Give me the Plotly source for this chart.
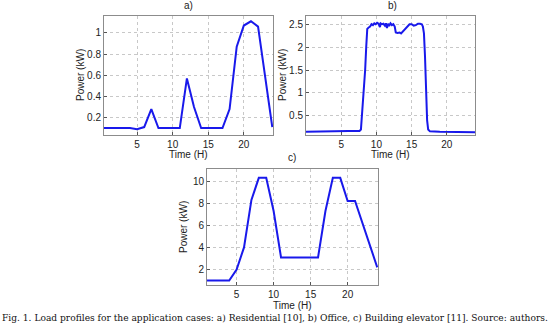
import plotly.graph_objects as go

# ---------------- data ----------------
hours_a = list(range(0, 25))
power_a = [0.10, 0.10, 0.10, 0.10, 0.10, 0.09, 0.11, 0.28, 0.10, 0.10, 0.10, 0.10,
           0.57, 0.30, 0.10, 0.10, 0.10, 0.10, 0.28, 0.87, 1.07, 1.11, 1.06, 0.58, 0.11]

hours_b = [0, 2, 4, 5, 6, 7, 7.6, 7.8, 7.95, 8.1, 8.25, 8.4, 8.55, 8.7, 8.9, 9.1, 9.3, 9.5,
           9.7, 9.9, 10.1, 10.3, 10.5, 10.6, 10.8, 11.0, 11.2, 11.35, 11.5, 11.65, 11.8,
           12.0, 12.2, 12.4, 12.6, 12.75, 13.0, 13.3, 13.5, 13.8, 14.1, 14.4, 14.7, 15.0,
           15.3, 15.6, 15.9, 16.2, 16.45, 16.6, 16.75, 16.9, 17.05, 17.2, 17.35, 17.6,
           19, 21, 24]
power_b = [0.15, 0.15, 0.155, 0.16, 0.165, 0.17, 0.17, 0.2, 0.5, 0.95, 1.1, 1.5, 2.0, 2.4,
           2.43, 2.45, 2.5, 2.48, 2.52, 2.5, 2.53, 2.51, 2.44, 2.52, 2.5, 2.51, 2.47, 2.52,
           2.42, 2.51, 2.46, 2.52, 2.48, 2.5, 2.45, 2.32, 2.31, 2.32, 2.3, 2.35, 2.4, 2.45,
           2.5, 2.5, 2.47, 2.48, 2.51, 2.51, 2.5, 2.45, 2.3, 1.8, 1.0, 0.4, 0.2, 0.16,
           0.15, 0.145, 0.14]

hours_c = list(range(1, 25))
power_c = [1.0, 1.0, 1.0, 1.0, 2.0, 4.0, 8.3, 10.3, 10.3, 7.3, 3.1, 3.1, 3.1, 3.1, 3.1,
           3.1, 7.3, 10.3, 10.3, 8.2, 8.2, 6.2, 4.2, 2.2]

ticks_x = [5, 10, 15, 20]
ticks_a = [0.2, 0.4, 0.6, 0.8, 1]
ticks_b = [0.5, 1, 1.5, 2, 2.5]
ticks_c = [2, 4, 6, 8, 10]

caption = ("Fig. 1. Load profiles for the application cases: a) Residential [10], "
           "b) Office, c) Building elevator [11]. Source: authors.")

# ---------------- figure ----------------
W, H = 550, 325
LINE = dict(color="rgb(25,25,235)", width=2)

fig = go.Figure()
fig.add_trace(go.Scatter(x=hours_a, y=power_a, mode="lines", line=LINE, xaxis="x", yaxis="y"))
fig.add_trace(go.Scatter(x=hours_b, y=power_b, mode="lines", line=LINE, xaxis="x2", yaxis="y2"))
fig.add_trace(go.Scatter(x=hours_c, y=power_c, mode="lines", line=LINE, xaxis="x3", yaxis="y3"))


def px(x0, x1):
    return [x0 / W, x1 / W]


def py(y_top, y_bot):
    return [1 - y_bot / H, 1 - y_top / H]


axis_common = dict(
    showline=True, linecolor="#8c8c8c", linewidth=1, mirror=True,
    showgrid=True, gridcolor="#c8c8c8", griddash="dot", gridwidth=1,
    ticks="inside", ticklen=3, tickcolor="#555",
    zeroline=False, tickfont=dict(family="Liberation Sans, Arial", size=10, color="#222"),
)

fig.update_layout(
    width=W, height=H, margin=dict(l=0, r=0, t=0, b=0),
    paper_bgcolor="white", plot_bgcolor="white", showlegend=False,
    xaxis=dict(domain=px(104, 273), range=[0.35, 24.1], tickvals=ticks_x, anchor="y", **axis_common),
    yaxis=dict(domain=py(16, 135), range=[0.035, 1.16], tickvals=ticks_a, anchor="x", **axis_common),
    xaxis2=dict(domain=px(306, 475), range=[0, 24], tickvals=ticks_x, anchor="y2", **axis_common),
    yaxis2=dict(domain=py(16, 135), range=[0.08, 2.68], tickvals=ticks_b, anchor="x2", **axis_common),
    xaxis3=dict(domain=px(207, 378), range=[1, 24.1], tickvals=ticks_x, anchor="y3", **axis_common),
    yaxis3=dict(domain=py(169, 285), range=[0.6, 11.1], tickvals=ticks_c, anchor="x3", **axis_common),
)

lab_font = dict(family="Liberation Sans, Arial", size=10, color="#222")


def ann(text, x, y, angle=0, font=lab_font):
    fig.add_annotation(text=text, x=x / W, y=1 - y / H, xref="paper", yref="paper",
                       showarrow=False, textangle=angle, font=font,
                       xanchor="center", yanchor="middle")


ann("a)", 188, 6)
ann("b)", 392, 6)
ann("c)", 292, 157)
ann("Time (H)", 188, 154)
ann("Time (H)", 390, 154)
ann("Time (H)", 292, 305)
ann("Power (kW)", 80, 75, -90)
ann("Power (kW)", 282, 75, -90)
ann("Power (kW)", 183, 227, -90)
ann(caption, 275, 318, 0, dict(family="DejaVu Serif", size=9.1, color="#111"))

fig.write_html("out.html", config={"displayModeBar": False},
               post_script="document.body.style.margin='0';document.body.style.overflow='hidden';")
